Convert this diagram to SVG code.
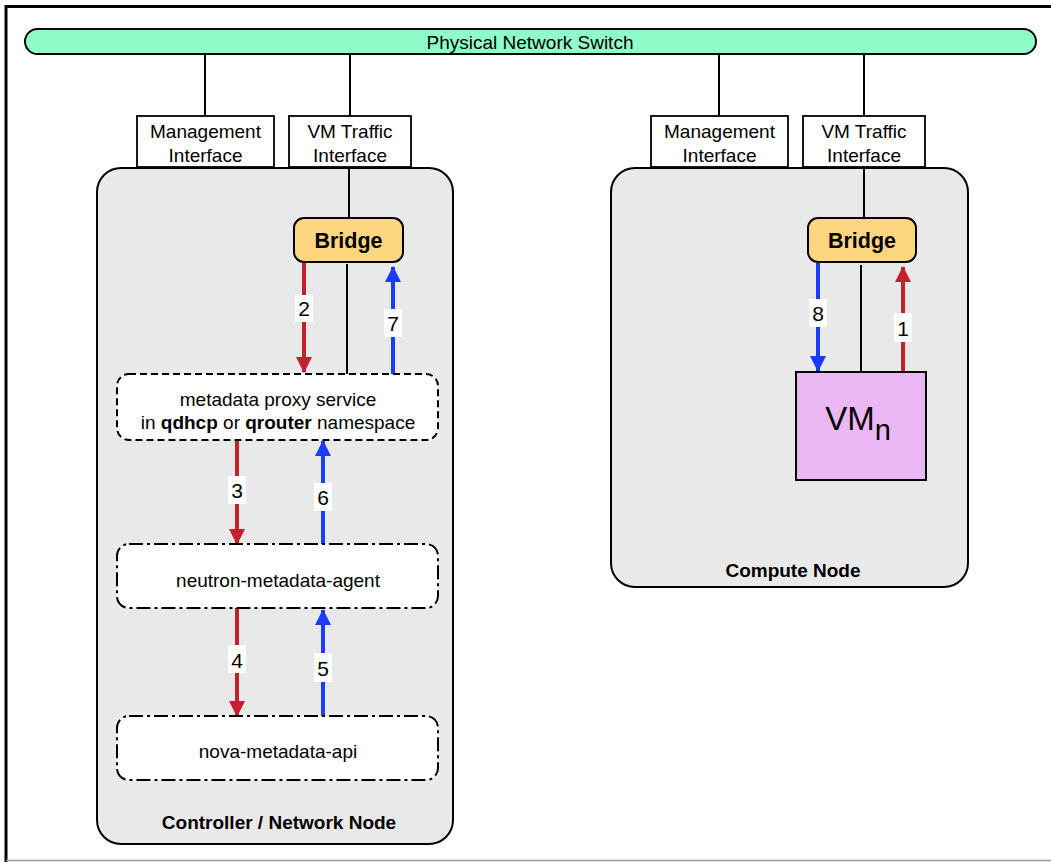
<svg xmlns="http://www.w3.org/2000/svg" width="1051" height="862" viewBox="0 0 1051 862">
<defs>
<style>
text{font-family:"Liberation Sans",Arial,sans-serif;fill:#000;text-anchor:middle}
.t16{font-size:19px}
.b{font-weight:bold}
.node{fill:#e9e9e9;stroke:#000;stroke-width:2}
.iface{fill:#fff;stroke:#000;stroke-width:1.8}
.bridge{fill:#fed680;stroke:#000;stroke-width:2}
.svc{fill:#fff;stroke:#000;stroke-width:2}
.dash{stroke-dasharray:7 4}
.dashdot{stroke-dasharray:14 4 3 4}
.wire{stroke:#000;stroke-width:2;fill:none}
.red{stroke:#c4202e;stroke-width:4;fill:none}
.blue{stroke:#1a3cff;stroke-width:4;fill:none}
.lbl{fill:#fff}
.num{font-size:21px}
</style>
<marker id="ar" markerWidth="16" markerHeight="16" viewBox="0 0 16 16" refX="15" refY="8" orient="auto" markerUnits="userSpaceOnUse"><path d="M0,0 L16,8 L0,16 Z" fill="#c4202e"/></marker>
<marker id="ab" markerWidth="16" markerHeight="16" viewBox="0 0 16 16" refX="15" refY="8" orient="auto" markerUnits="userSpaceOnUse"><path d="M0,0 L16,8 L0,16 Z" fill="#1a3cff"/></marker>
</defs>
<rect x="0" y="0" width="1051" height="862" fill="#fff"/>
<g id="frame">
<path d="M6,862 V6.5 H1051" fill="none" stroke="#000" stroke-width="3"/>
<line x1="6" y1="860.5" x2="1051" y2="860.5" stroke="#999" stroke-width="1.5"/>
</g>
<g id="controller-node">
<rect class="node" x="97" y="168" width="356" height="676" rx="24"/>
<text class="t16 b" x="279" y="829">Controller / Network Node</text>
</g>
<g id="compute-node">
<rect class="node" x="611" y="168" width="357" height="419" rx="24"/>
<text class="t16 b" x="793" y="577">Compute Node</text>
</g>
<g id="connectors">
<line class="wire" x1="205" y1="54" x2="205" y2="116"/>
<line class="wire" x1="350" y1="54" x2="350" y2="116"/>
<line class="wire" x1="719" y1="54" x2="719" y2="116"/>
<line class="wire" x1="864" y1="54" x2="864" y2="116"/>
<line class="wire" x1="349" y1="167" x2="349" y2="218"/>
<line class="wire" x1="864" y1="167" x2="864" y2="218"/>
<line class="wire" x1="347" y1="264" x2="347" y2="374"/>
<line class="wire" x1="861" y1="265" x2="861" y2="372"/>
<line class="red" x1="304" y1="263" x2="304" y2="372" marker-end="url(#ar)"/>
<line class="blue" x1="393" y1="374" x2="393" y2="267" marker-end="url(#ab)"/>
<line class="red" x1="237" y1="440" x2="237" y2="544" marker-end="url(#ar)"/>
<line class="blue" x1="323" y1="545" x2="323" y2="441" marker-end="url(#ab)"/>
<line class="red" x1="237" y1="608" x2="237" y2="716" marker-end="url(#ar)"/>
<line class="blue" x1="323" y1="717" x2="323" y2="610" marker-end="url(#ab)"/>
<line class="blue" x1="818" y1="263" x2="818" y2="371" marker-end="url(#ab)"/>
<line class="red" x1="903" y1="372" x2="903" y2="267" marker-end="url(#ar)"/>
<rect class="lbl" x="295" y="295" width="18" height="27"/><text class="num" x="304" y="316">2</text>
<rect class="lbl" x="384" y="309" width="18" height="28"/><text class="num" x="393" y="331">7</text>
<rect class="lbl" x="228" y="476" width="18" height="28"/><text class="num" x="237" y="498">3</text>
<rect class="lbl" x="314" y="483" width="18" height="28"/><text class="num" x="323" y="505">6</text>
<rect class="lbl" x="228" y="645" width="18" height="28"/><text class="num" x="237" y="668">4</text>
<rect class="lbl" x="314" y="653" width="18" height="29"/><text class="num" x="323" y="676">5</text>
<rect class="lbl" x="809" y="299" width="18" height="28"/><text class="num" x="818" y="321">8</text>
<rect class="lbl" x="894" y="313" width="18" height="29"/><text class="num" x="903" y="336">1</text>
</g>
<g id="switch">
<rect x="25" y="29" width="1011" height="25" rx="12.5" fill="#8ffcc9" stroke="#000" stroke-width="2"/>
<text class="t16" x="530" y="49">Physical Network Switch</text>
</g>
<g id="mgmt-if-left">
<rect class="iface" x="137" y="116" width="137" height="51"/>
<text class="t16" x="205.5" y="138">Management</text>
<text class="t16" x="205.5" y="162">Interface</text>
</g>
<g id="vm-if-left">
<rect class="iface" x="289" y="116" width="122" height="51"/>
<text class="t16" x="350" y="138">VM Traffic</text>
<text class="t16" x="350" y="162">Interface</text>
</g>
<g id="mgmt-if-right">
<rect class="iface" x="651" y="116" width="137" height="51"/>
<text class="t16" x="719.5" y="138">Management</text>
<text class="t16" x="719.5" y="162">Interface</text>
</g>
<g id="vm-if-right">
<rect class="iface" x="803" y="116" width="122" height="51"/>
<text class="t16" x="864" y="138">VM Traffic</text>
<text class="t16" x="864" y="162">Interface</text>
</g>
<g id="bridge-left">
<rect class="bridge" x="294" y="218" width="109" height="44" rx="10"/>
<text class="b" x="348.5" y="248" font-size="21.5">Bridge</text>
</g>
<g id="bridge-right">
<rect class="bridge" x="808" y="218" width="108" height="44" rx="10"/>
<text class="b" x="862" y="248" font-size="21.5">Bridge</text>
</g>
<g id="metadata-proxy">
<rect class="svc dash" x="117" y="374" width="321" height="66" rx="12"/>
<text class="t16" x="278" y="406">metadata proxy service</text>
<text class="t16" x="278" y="429">in <tspan class="b">qdhcp</tspan> or <tspan class="b">qrouter</tspan> namespace</text>
</g>
<g id="neutron-metadata-agent">
<rect class="svc dashdot" x="117" y="544" width="321" height="64" rx="12"/>
<text class="t16" x="278" y="587">neutron-metadata-agent</text>
</g>
<g id="nova-metadata-api">
<rect class="svc dashdot" x="117" y="716" width="321" height="64" rx="12"/>
<text class="t16" x="278" y="758">nova-metadata-api</text>
</g>
<g id="vm">
<rect x="796" y="372" width="130" height="108" fill="#ebb8f5" stroke="#000" stroke-width="2"/>
<text x="858" y="430" font-size="33">VM<tspan font-size="29" dy="10">n</tspan></text>
</g>
</svg>
